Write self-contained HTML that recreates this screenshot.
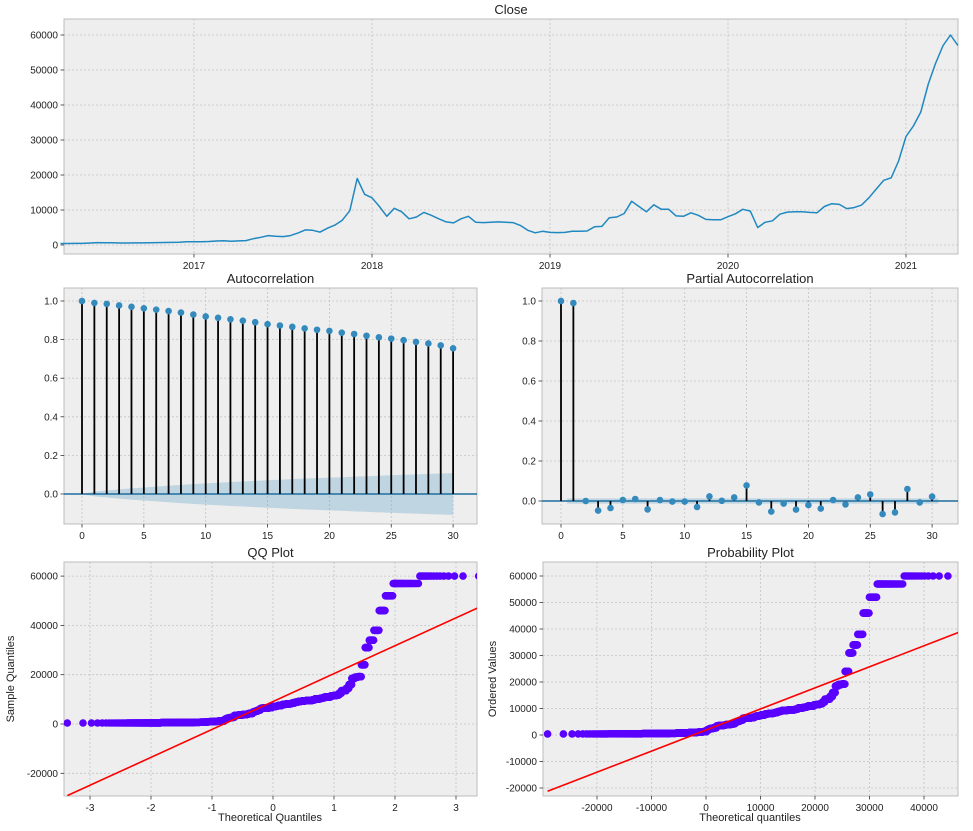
<!DOCTYPE html>
<html><head><meta charset="utf-8"><style>
body{margin:0;background:#fff}
svg text{font-family:"Liberation Sans","DejaVu Sans",sans-serif;fill:#222}
</style></head><body>
<svg id="fig" width="973" height="826" xmlns="http://www.w3.org/2000/svg">
<defs>
<clipPath id="clipqq"><rect x="64" y="562" width="413" height="234"/></clipPath>
<clipPath id="clippp"><rect x="543" y="562" width="415" height="234"/></clipPath>
</defs>
</svg>
<script>
// ---- data ----
const closeStartYear = 2016.25;
const closeStep = 1/24;
const daysPerSample = 15;
const closeValues = [420,440,450,460,580,700,660,650,580,575,605,600,615,700,710,740,780,950,
900,920,1000,1150,1230,1050,1180,1250,1800,2200,2700,2500,2400,2700,3400,4300,4200,3700,4800,5700,7100,9800,19000,14500,
13500,11000,8200,10500,9500,7500,8000,9300,8500,7500,6600,6300,7500,8200,6500,6400,6500,6600,6500,6400,5600,4200,3500,3900,
3600,3550,3600,3900,3900,4000,5200,5300,7800,8000,9000,12500,11000,9500,11500,10200,10200,8300,8200,9200,8500,7300,7200,7200,
8100,8900,10200,9700,5000,6500,6900,8800,9400,9500,9500,9300,9200,11000,11800,11600,10400,10700,11400,13500,16000,18500,19200,24000,
31000,34000,38000,46000,52000,57000,60000,57000];
const closeYTicks = [0,10000,20000,30000,40000,50000,60000];
const closeXTicks = [2017,2018,2019,2020,2021];
const acfLags = Array.from({length:31},(_, i)=>i);
const acfValues = [1.0,0.99,0.985,0.977,0.97,0.962,0.955,0.948,0.94,0.93,0.92,0.913,0.905,0.898,0.89,0.88,0.873,0.866,0.858,0.851,0.845,0.836,0.829,0.82,0.812,0.805,0.797,0.788,0.78,0.77,0.755];
const acfConf = [0,0.012,0.018,0.024,0.029,0.034,0.038,0.043,0.047,0.051,0.055,0.058,0.062,0.065,0.068,0.071,0.074,0.077,0.08,0.082,0.085,0.087,0.09,0.092,0.095,0.097,0.1,0.102,0.104,0.106,0.108];
const pacfValues = [1.0,0.99,0.0,-0.048,-0.035,0.005,0.01,-0.042,0.005,-0.003,-0.003,-0.03,0.023,0.001,0.018,0.078,-0.007,-0.053,-0.013,-0.043,-0.02,-0.038,0.005,-0.017,0.018,0.033,-0.065,-0.057,0.06,-0.007,0.022];
const pacfConf = 0.013;
const corrYTicks = [0.0,0.2,0.4,0.6,0.8,1.0];
const lagTicks = [0,5,10,15,20,25,30];
const qqXTicks = [-3,-2,-1,0,1,2,3];
const qqYTicks = [-20000,0,20000,40000,60000];
const ppXTicks = [-20000,-10000,0,10000,20000,30000,40000];
const ppYTicks = [-20000,-10000,0,10000,20000,30000,40000,50000,60000];

const svg = document.getElementById('fig');
const NS = 'http://www.w3.org/2000/svg';
function mk(tag, attrs, parent){const e=document.createElementNS(NS,tag);for(const k in attrs)e.setAttribute(k,attrs[k]);(parent||svg).appendChild(e);return e;}
function txt(s, attrs, parent){const e=mk('text',attrs,parent);e.textContent=s;return e;}

function panel(name, x0,x1,y0,y1,title,xt,xs,yt,ys,fmtX,fmtY){
  const g=mk('g',{});
  
  
  const bg=mk('rect',{x:x0,y:y0,width:x1-x0,height:y1-y0,fill:'#eeeeee',stroke:'#bcbcbc','stroke-width':1},g);
  
  
  xt.forEach(v=>{const x=xs(v);
    mk('line',{x1:x,x2:x,y1:y0,y2:y1,stroke:'#c4c4c4','stroke-dasharray':'2,2','stroke-width':0.8},g);
    mk('line',{x1:x,x2:x,y1:y1,y2:y1+3.5,stroke:'#333','stroke-width':0.8},g);
    const t=txt(fmtX(v),{x:x,y:y1+15,'font-size':10,'text-anchor':'middle'},g);
    
    
  });
  yt.forEach(v=>{const y=ys(v);
    mk('line',{x1:x0,x2:x1,y1:y,y2:y,stroke:'#c4c4c4','stroke-dasharray':'2,2','stroke-width':0.8},g);
    mk('line',{x1:x0-3.5,x2:x0,y1:y,y2:y,stroke:'#333','stroke-width':0.8},g);
    const t=txt(fmtY(v),{x:x0-6,y:y+3.5,'font-size':10,'text-anchor':'end'},g);
    
    
  });
  const tt=txt(title,{x:(x0+x1)/2,y:y0-5,'font-size':13,'text-anchor':'middle'},g);
  
  
  return g;
}
const s=String;

// ---- Close ----
{
  const xs=t=>194+(t-2017)*178, ys=v=>245-v*35/10000;
  const g=panel('close-chart',64,958,19,254,'Close',closeXTicks,xs,closeYTicks,ys,s,s);
  const pts=closeValues.map((v,i)=>xs(closeStartYear+i*closeStep).toFixed(1)+','+ys(v).toFixed(1)).join(' ');
  const l=mk('polyline',{points:pts,fill:'none',stroke:'#1f88c0','stroke-width':1.5,'stroke-linejoin':'round'},g);
  
  
}
// ---- ACF ----
function stems(name,g,vals,xs,ys,x0,x1){
  const base=mk('line',{x1:x0,x2:x1,y1:ys(0),y2:ys(0),stroke:'#1f6fa0','stroke-width':1.5},g);
  
  
  vals.forEach((v,i)=>{
    const st=mk('line',{x1:xs(i),x2:xs(i),y1:ys(0),y2:ys(v),stroke:'#000','stroke-width':1.8},g);
    
    
    const c=mk('circle',{cx:xs(i),cy:ys(v),r:3.3,fill:'#348ABD'},g);
    
    
  });
}
{
  const xs=l=>82+l*12.37, ys=v=>494-v*193;
  const g=panel('acf-chart',64,477,288,524,'Autocorrelation',lagTicks,xs,corrYTicks,ys,s,v=>v.toFixed(1));
  const up=acfLags.map(l=>xs(l)+','+ys(acfConf[l])), dn=acfLags.slice().reverse().map(l=>xs(l)+','+ys(-acfConf[l]));
  const band=mk('polygon',{points:up.concat(dn).join(' '),fill:'#348ABD','fill-opacity':0.25},g);
  
  
  stems('acf',g,acfValues,xs,ys,64,477);
}
// ---- PACF ----
{
  const xs=l=>561+l*12.37, ys=v=>501-v*200;
  const g=panel('pacf-chart',542,958,288,524,'Partial Autocorrelation',lagTicks,xs,corrYTicks,ys,s,v=>v.toFixed(1));
  const band=mk('rect',{x:xs(0.5),y:ys(pacfConf),width:xs(30.5)-xs(0.5),height:ys(-pacfConf)-ys(pacfConf),fill:'#348ABD','fill-opacity':0.25},g);
  
  
  stems('pacf',g,pacfValues,xs,ys,542,958);
}
// ---- stats ----
function ninv(p){const a=[-39.6968302866538,220.946098424521,-275.928510446969,138.357751867269,-30.6647980661472,2.50662827745924],
b=[-54.4760987982241,161.585836858041,-155.698979859887,66.8013118877197,-13.2806815528857],
c=[-0.00778489400243029,-0.322396458041136,-2.40075827716184,-2.54973253934373,4.37466414146497,2.93816398269878],
d=[0.00778469570904146,0.32246712907004,2.445134137143,3.75440866190742];
let q,r;if(p<0.02425){q=Math.sqrt(-2*Math.log(p));return(((((c[0]*q+c[1])*q+c[2])*q+c[3])*q+c[4])*q+c[5])/((((d[0]*q+d[1])*q+d[2])*q+d[3])*q+1);}
if(p>1-0.02425){q=Math.sqrt(-2*Math.log(1-p));return-(((((c[0]*q+c[1])*q+c[2])*q+c[3])*q+c[4])*q+c[5])/((((d[0]*q+d[1])*q+d[2])*q+d[3])*q+1);}
q=p-0.5;r=q*q;return(((((a[0]*r+a[1])*r+a[2])*r+a[3])*r+a[4])*r+a[5])*q/(((((b[0]*r+b[1])*r+b[2])*r+b[3])*r+b[4])*r+1);}
// each sample holds for daysPerSample days (step series)
const daily=[];closeValues.forEach(v=>{for(let k=0;k<daysPerSample;k++)daily.push(v);});
const sorted=daily.slice().sort((a,b)=>a-b), n=sorted.length;
const mean=sorted.reduce((a,b)=>a+b,0)/n;
const sd=Math.sqrt(sorted.reduce((a,b)=>a+(b-mean)**2,0)/(n-1));
const tq=sorted.map((v,i)=>ninv((i+1-0.3175)/(n+0.365)));

function scatter(name,g,xsArr,ysArr,xs,ys){
  xsArr.forEach((x,i)=>{const c=mk('circle',{cx:xs(x).toFixed(1),cy:ys(ysArr[i]).toFixed(1),r:3.8,fill:'#5a00ff'},g);
    
    });
}
function label(g,name,str,x,y,rot){const t=txt(str,{x:x,y:y,'font-size':11,'text-anchor':'middle',transform:rot?`rotate(-90 ${x} ${y})`:''},g);
  
  }
// ---- QQ ----
{
  const xs=q=>273+q*61, ys=v=>724-v*49.3/20000;
  const g=panel('qq-chart',64,477,562,796,'QQ Plot',qqXTicks,xs,qqYTicks,ys,s,s);
  const inner=mk('g',{'clip-path':'url(#clipqq)'},g);
  scatter('qq',inner,tq,sorted,xs,ys);
  const qa=tq[0], qb=tq[n-1];
  const ln=mk('line',{x1:xs(qa),y1:ys(mean+sd*qa),x2:xs(qb),y2:ys(mean+sd*qb),stroke:'#ff0000','stroke-width':1.6},inner);
  
  
  label(g,'qq-x-axis-title','Theoretical Quantiles',270,821,false);
  label(g,'qq-y-axis-title','Sample Quantiles',14,679,true);
}
// ---- Probability plot ----
{
  const xs=v=>706+v*54.5/10000, ys=v=>735-v*26.5/10000;
  const g=panel('prob-chart',543,958,562,796,'Probability Plot',ppXTicks,xs,ppYTicks,ys,s,s);
  const inner=mk('g',{'clip-path':'url(#clippp)'},g);
  const px=tq.map(q=>q*sd+mean);
  const mx=px.reduce((a,b)=>a+b,0)/n;
  let sxy=0,sxx=0;px.forEach((x,i)=>{sxy+=(x-mx)*(sorted[i]-mean);sxx+=(x-mx)**2;});
  const slope=sxy/sxx, icpt=mean-slope*mx;
  scatter('prob',inner,px,sorted,xs,ys);
  const xa=px[0], xb=px[n-1];
  const ln=mk('line',{x1:xs(xa),y1:ys(icpt+slope*xa),x2:xs(xb),y2:ys(icpt+slope*xb),stroke:'#ff0000','stroke-width':1.6},inner);
  
  
  label(g,'prob-x-axis-title','Theoretical quantiles',750,821,false);
  label(g,'prob-y-axis-title','Ordered Values',496,679,true);
}
</script>
</body></html>
